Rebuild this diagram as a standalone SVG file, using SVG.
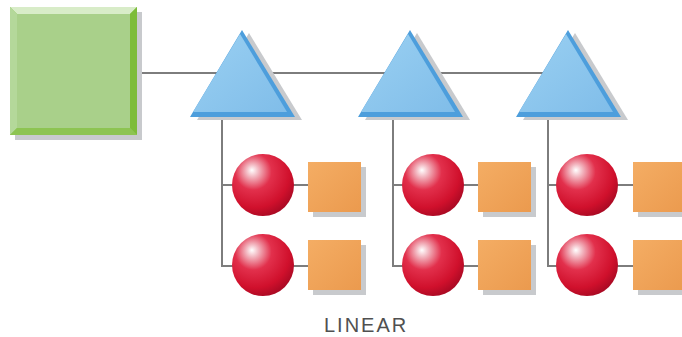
<svg xmlns="http://www.w3.org/2000/svg" width="682" height="337" viewBox="0 0 682 337">
<style>
.ln{stroke:#7d7d7d;stroke-width:2;fill:none}
.shadow{fill:#c8cacd}
.sq{fill:url(#og)}
.sph{fill:url(#rg)}
.lbl{font-family:"Liberation Sans",Arial,sans-serif;font-size:20px;fill:#505050;letter-spacing:2px}
</style>
<defs>
<radialGradient id="rg" cx="0.38" cy="0.32" r="0.7" fx="0.32" fy="0.26">
<stop offset="0" stop-color="#ffffff"/>
<stop offset="0.15" stop-color="#f2b4be"/>
<stop offset="0.42" stop-color="#e2304c"/>
<stop offset="0.8" stop-color="#d0102c"/>
<stop offset="1" stop-color="#ac0a24"/>
</radialGradient>
<linearGradient id="og" x1="0" y1="0" x2="1" y2="1">
<stop offset="0" stop-color="#f4ad64"/>
<stop offset="1" stop-color="#eb9a4e"/>
</linearGradient>
<linearGradient id="bg" x1="0" y1="0" x2="1" y2="1">
<stop offset="0" stop-color="#9ad0f2"/>
<stop offset="1" stop-color="#80bde9"/>
</linearGradient>
<g id="tri">
<polygon class="shadow" points="7,3 -45,90 60,90"/>
<polygon fill="#4d9edc" points="0,0 -52,87 53,87"/>
<polygon fill="url(#bg)" points="-2,4 -49,82 45,82"/>
</g>
<g id="sphere">
<circle r="31" class="sph"/>
</g>
<g id="box">
<rect x="5" y="5" width="53" height="50" class="shadow"/>
<rect x="0" y="0" width="53" height="50" class="sq"/>
</g>
</defs>
<g id="connectors">
<line class="ln" x1="137" y1="73" x2="568" y2="73"/>
<polyline class="ln" points="222,117 222,266 263,266"/>
<line class="ln" x1="222" y1="185" x2="263" y2="185"/>
<line class="ln" x1="263" y1="185" x2="310" y2="185"/>
<line class="ln" x1="263" y1="266" x2="310" y2="266"/>
<polyline class="ln" points="393,117 393,266 433,266"/>
<line class="ln" x1="393" y1="185" x2="433" y2="185"/>
<line class="ln" x1="433" y1="185" x2="480" y2="185"/>
<line class="ln" x1="433" y1="266" x2="480" y2="266"/>
<polyline class="ln" points="548,117 548,266 587,266"/>
<line class="ln" x1="548" y1="185" x2="587" y2="185"/>
<line class="ln" x1="587" y1="185" x2="635" y2="185"/>
<line class="ln" x1="587" y1="266" x2="635" y2="266"/>
</g>
<g id="root">
<rect x="15" y="12" width="127" height="128" class="shadow"/>
<rect x="10" y="7" width="127" height="128" fill="#8cc45a"/>
<polygon fill="#d8ecc8" points="10,7 137,7 130,14 17,14"/>
<polygon fill="#b4d89a" points="10,7 17,14 17,128 10,135"/>
<polygon fill="#7dbc3a" points="137,7 137,135 130,128 130,14"/>
<polygon fill="#8dc452" points="10,135 137,135 130,128 17,128"/>
<rect x="17" y="14" width="113" height="114" fill="#a9d08a"/>
</g>
<g id="hub1"><use href="#tri" x="242" y="30"/></g>
<g id="hub2"><use href="#tri" x="410" y="30"/></g>
<g id="hub3"><use href="#tri" x="568" y="30"/></g>
<g id="s1a"><use href="#sphere" x="263" y="185"/></g>
<g id="s1b"><use href="#sphere" x="263" y="265"/></g>
<g id="s2a"><use href="#sphere" x="433" y="185"/></g>
<g id="s2b"><use href="#sphere" x="433" y="265"/></g>
<g id="s3a"><use href="#sphere" x="587" y="185"/></g>
<g id="s3b"><use href="#sphere" x="587" y="265"/></g>
<g id="b1a"><use href="#box" x="308" y="162"/></g>
<g id="b1b"><use href="#box" x="308" y="240"/></g>
<g id="b2a"><use href="#box" x="478" y="162"/></g>
<g id="b2b"><use href="#box" x="478" y="240"/></g>
<g id="b3a"><use href="#box" x="633" y="162"/></g>
<g id="b3b"><use href="#box" x="633" y="240"/></g>
<text class="lbl" x="324" y="332">LINEAR</text>
</svg>
